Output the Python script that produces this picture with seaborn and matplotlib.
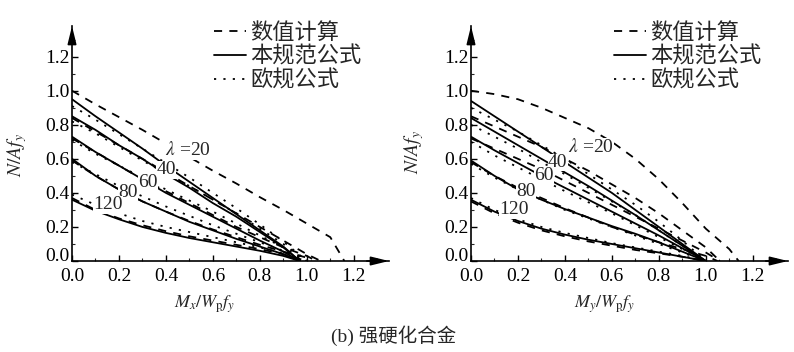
import numpy as np
import pandas as pd
import matplotlib
matplotlib.use("Agg")
import matplotlib.pyplot as plt
from matplotlib.lines import Line2D
import seaborn as sns

# slenderness ratios and common x grid (M / Wp fy)
lambdas = [20, 40, 60, 80, 120]
x_grid = [0.0, 0.1, 0.2, 0.3, 0.4, 0.5, 0.6, 0.7, 0.8, 0.9, 1.0, 1.1]

# --- left panel: Mx ---
mx_num_y = [
    [1.0, 0.92, 0.845, 0.77, 0.69, 0.61, 0.53, 0.455, 0.375, 0.30, 0.22, 0.14],
    [0.84, 0.76, 0.68, 0.60, 0.52, 0.44, 0.36, 0.28, 0.20, 0.12, 0.04],
    [0.72, 0.64, 0.56, 0.48, 0.41, 0.34, 0.27, 0.20, 0.14, 0.08, 0.03],
    [0.59, 0.50, 0.42, 0.35, 0.29, 0.235, 0.185, 0.14, 0.095, 0.055, 0.02],
    [0.37, 0.30, 0.25, 0.21, 0.175, 0.145, 0.12, 0.095, 0.07, 0.04],
]
mx_num_end = [1.16, 1.06, 1.04, 1.02, 1.0]

mx_code_y = [
    [0.95, 0.85, 0.755, 0.66, 0.56, 0.465, 0.37, 0.275, 0.18, 0.085],
    [0.85, 0.77, 0.68, 0.60, 0.51, 0.43, 0.34, 0.26, 0.17, 0.08],
    [0.73, 0.64, 0.56, 0.48, 0.40, 0.33, 0.26, 0.19, 0.12, 0.055],
    [0.60, 0.50, 0.42, 0.35, 0.29, 0.23, 0.18, 0.13, 0.085, 0.04],
    [0.36, 0.295, 0.245, 0.20, 0.165, 0.135, 0.11, 0.085, 0.06, 0.03],
]
mx_code_end = [0.97, 0.97, 0.97, 0.97, 0.97]

mx_ec_y = [
    [0.91, 0.83, 0.745, 0.66, 0.575, 0.49, 0.40, 0.31, 0.215, 0.115],
    [0.82, 0.75, 0.67, 0.59, 0.515, 0.44, 0.36, 0.28, 0.19, 0.10],
    [0.71, 0.63, 0.56, 0.49, 0.42, 0.355, 0.29, 0.22, 0.15, 0.08],
    [0.58, 0.51, 0.44, 0.38, 0.32, 0.265, 0.21, 0.16, 0.11, 0.06],
    [0.39, 0.33, 0.28, 0.235, 0.20, 0.17, 0.14, 0.11, 0.08, 0.045],
]
mx_ec_end = [1.0, 1.0, 1.0, 1.0, 1.0]

# --- right panel: My ---
my_num_y = [
    [1.0, 0.98, 0.95, 0.90, 0.84, 0.78, 0.70, 0.60, 0.48, 0.34, 0.19, 0.07],
    [0.85, 0.79, 0.73, 0.67, 0.60, 0.53, 0.45, 0.37, 0.28, 0.18, 0.08],
    [0.72, 0.66, 0.60, 0.54, 0.47, 0.40, 0.33, 0.26, 0.19, 0.12, 0.05],
    [0.58, 0.50, 0.43, 0.37, 0.31, 0.255, 0.20, 0.155, 0.11, 0.07, 0.03],
    [0.35, 0.28, 0.225, 0.18, 0.145, 0.115, 0.09, 0.065, 0.045, 0.025],
]
my_num_end = [1.14, 1.06, 1.06, 1.05, 1.0]

my_code_y = [
    [0.94, 0.85, 0.76, 0.67, 0.58, 0.49, 0.40, 0.30, 0.20, 0.10],
    [0.84, 0.76, 0.68, 0.60, 0.52, 0.44, 0.355, 0.27, 0.18, 0.09],
    [0.73, 0.65, 0.575, 0.50, 0.43, 0.36, 0.29, 0.22, 0.15, 0.075],
    [0.59, 0.50, 0.42, 0.36, 0.305, 0.255, 0.205, 0.16, 0.11, 0.055],
    [0.36, 0.29, 0.235, 0.19, 0.155, 0.125, 0.10, 0.075, 0.05, 0.025],
]
my_code_end = [1.0, 1.0, 1.0, 1.0, 1.0]

my_ec_y = [
    [0.90, 0.83, 0.76, 0.68, 0.60, 0.51, 0.42, 0.33, 0.23, 0.12],
    [0.80, 0.73, 0.66, 0.58, 0.51, 0.43, 0.35, 0.27, 0.18, 0.09],
    [0.70, 0.62, 0.55, 0.48, 0.41, 0.345, 0.28, 0.21, 0.14, 0.07],
    [0.57, 0.49, 0.42, 0.36, 0.30, 0.25, 0.20, 0.15, 0.10, 0.05],
    [0.37, 0.30, 0.245, 0.20, 0.165, 0.135, 0.105, 0.08, 0.055, 0.03],
]
my_ec_end = [1.0, 1.0, 1.0, 1.0, 1.0]

methods = ["数值计算", "本规范公式", "欧规公式"]
caption = "(b) 强硬化合金"


def build_frame(groups):
    rows = []
    for method, ys, ends in groups:
        for lam, y, end in zip(lambdas, ys, ends):
            for xv, yv in zip(x_grid, y):
                rows.append((method, lam, xv, yv))
            rows.append((method, lam, end, 0.0))
    return pd.DataFrame(rows, columns=["method", "lam", "x", "y"])


df_mx = build_frame([(methods[0], mx_num_y, mx_num_end),
                     (methods[1], mx_code_y, mx_code_end),
                     (methods[2], mx_ec_y, mx_ec_end)])
df_my = build_frame([(methods[0], my_num_y, my_num_end),
                     (methods[1], my_code_y, my_code_end),
                     (methods[2], my_ec_y, my_ec_end)])

sns.set_theme(style="white")
plt.rcParams["font.family"] = ["Liberation Serif", "Noto Sans CJK SC"]
plt.rcParams["mathtext.fontset"] = "stix"
plt.rcParams["axes.unicode_minus"] = False

LW = 1.3
dash_map = {methods[0]: (4.5, 4), methods[1]: "", methods[2]: (1.2, 4)}

fig = plt.figure(figsize=(7.94, 3.52), dpi=100)
ax_l = fig.add_axes([0.0907, 0.2585, 0.3992, 0.6676])
ax_r = fig.add_axes([0.5932, 0.2585, 0.3992, 0.6676])

label_pos = {
    "left": [(0.495, 0.65), (0.40, 0.535), (0.325, 0.46), (0.24, 0.405), (0.155, 0.33)],
    "right": [(0.51, 0.67), (0.37, 0.58), (0.31, 0.50), (0.235, 0.41), (0.185, 0.30)],
}

for ax, df, side in [(ax_l, df_mx, "left"), (ax_r, df_my, "right")]:
    sns.lineplot(data=df, x="x", y="y", units="lam", style="method",
                 estimator=None, sort=False, color="black", lw=LW,
                 dashes=dash_map, legend=False, ax=ax)
    ax.set_xlim(0, 1.35)
    ax.set_ylim(0, 1.38)
    ax.set_xticks(np.arange(0, 1.21, 0.2))
    ax.set_yticks(np.arange(0, 1.21, 0.2))
    ax.set_xticks(np.arange(0, 1.31, 0.1), minor=True)
    ax.set_yticks(np.arange(0, 1.31, 0.1), minor=True)
    ax.xaxis.set_major_formatter(matplotlib.ticker.FormatStrFormatter("%.1f"))
    ax.yaxis.set_major_formatter(matplotlib.ticker.FormatStrFormatter("%.1f"))
    ax.tick_params(which="major", direction="in", length=4, width=1,
                   labelsize=14, bottom=True, left=True, colors="black")
    ax.tick_params(axis="x", which="major", pad=5)
    ax.tick_params(axis="y", which="major", pad=2)
    ax.tick_params(which="minor", direction="in", length=2, width=0.8,
                   bottom=True, left=True)
    # y "0.0" sits on the axis line, as in the original
    ylabs = ax.get_yticklabels()
    for lab in ylabs:
        lab.set_verticalalignment("center_baseline")
    ylabs[0].set_verticalalignment("baseline")
    ax.set_xlabel("")
    ax.set_ylabel("")
    for s in ["top", "right"]:
        ax.spines[s].set_visible(False)
    for s in ["left", "bottom"]:
        ax.spines[s].set_color("black")
        ax.spines[s].set_linewidth(1.2)
    ax.annotate("", xy=(1.0, 0), xycoords="axes fraction", xytext=(0.93, 0),
                arrowprops=dict(arrowstyle="-|>,head_length=0.9,head_width=0.22",
                                color="black", lw=1.2, shrinkA=0, shrinkB=0))
    ax.annotate("", xy=(0, 1.0), xycoords="axes fraction", xytext=(0, 0.93),
                arrowprops=dict(arrowstyle="-|>,head_length=0.9,head_width=0.22",
                                color="black", lw=1.2, shrinkA=0, shrinkB=0))
    texts = [r"$\lambda$ =20", "40", "60", "80", "120"]
    for t, (px, py) in zip(texts, label_pos[side]):
        ax.text(px, py, t, fontsize=14, ha="center", va="center",
                bbox=dict(facecolor="white", edgecolor="none", pad=0.2))

    handles = [Line2D([], [], color="black", lw=LW, dashes=(4.5, 4)),
               Line2D([], [], color="black", lw=LW),
               Line2D([], [], color="black", lw=LW, dashes=(1.2, 4))]
    anchor = (0.269, 0.935) if side == "left" else (0.773, 0.935)
    fig.legend(handles, methods, loc="upper left", bbox_to_anchor=anchor,
               frameon=False, fontsize=16, handlelength=1.45, handletextpad=0.2,
               labelspacing=0.12, borderpad=0, borderaxespad=0)

fig.text(0.258, 0.135, r"$M_x/W_{\rm p}f_y$", fontsize=13, ha="center", va="center")
fig.text(0.762, 0.135, r"$M_y/W_{\rm p}f_y$", fontsize=13, ha="center", va="center")
fig.text(0.022, 0.56, r"$N/Af_y$", fontsize=14, rotation=90, ha="center", va="center")
fig.text(0.522, 0.568, r"$N/Af_y$", fontsize=14, rotation=90, ha="center", va="center")
fig.text(0.496, 0.045, caption, fontsize=14, ha="center", va="center")

fig.savefig("out.png", dpi=100)
